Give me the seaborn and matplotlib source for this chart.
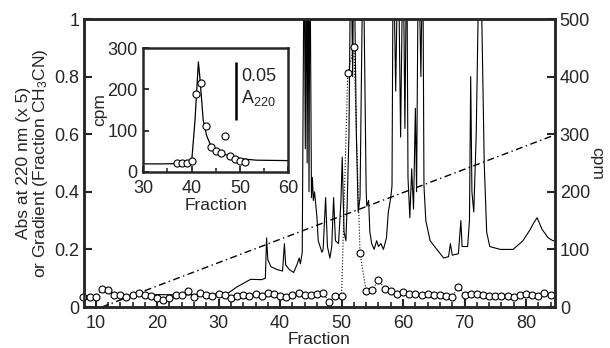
# %%
import matplotlib
matplotlib.use("Agg")
import matplotlib.pyplot as plt
import seaborn as sns
from matplotlib.ticker import MultipleLocator

sns.set_style("ticks")
plt.rcParams['font.family'] = ['Liberation Sans', 'DejaVu Sans']
plt.rcParams['mathtext.default'] = 'regular'

# %%
# A220 (x5) trace (values > 1 run off the top)
abs_frac = [17.3, 20.0, 24.4, 28.0, 31.4, 33.0, 35.2, 37.0, 37.6, 37.8, 38.0, 38.5,
            39.5, 40.4, 40.7, 40.9, 41.5, 42.2, 42.8, 43.1, 43.3, 43.6, 43.9, 44.1,
            44.25, 44.4, 44.55, 44.7, 44.85, 45.1, 45.25, 45.4, 45.6, 46.0, 46.2, 46.8,
            47.0, 47.4, 47.7, 48.1, 48.4, 48.7, 49.0, 49.5, 49.9, 50.1, 50.4, 50.7,
            50.9, 51.2, 51.5, 51.8, 52.0, 52.4, 52.7, 53.0, 53.5, 54.0, 54.1, 54.4,
            54.6, 54.9, 55.3, 55.7, 56.0, 56.4, 56.8, 57.3, 57.6, 58.0, 58.2, 58.4,
            58.8, 59.2, 59.6, 60.0, 60.3, 60.6, 60.8, 61.1, 61.4, 61.7, 62.0, 62.2,
            62.5, 62.9, 63.2, 63.4, 63.7, 64.4, 65.5, 66.6, 67.4, 67.7, 68.0, 69.0,
            69.4, 69.6, 70.5, 70.8, 71.0, 71.2, 71.5, 71.9, 72.5, 73.2, 73.6, 74.1,
            75.8, 77.9, 79.5, 80.7, 81.2, 81.8, 82.6, 83.6, 84.4, 84.7]
abs_val = [0.042, 0.043, 0.042, 0.044, 0.046, 0.07, 0.096, 0.095, 0.10, 0.24, 0.165, 0.14,
           0.13, 0.125, 0.22, 0.146, 0.13, 0.12, 0.15, 0.17, 0.15, 0.19, 1.3, 0.55,
           1.3, 0.5, 1.3, 0.4, 1.3, 0.38, 0.45, 0.37, 0.40, 0.31, 0.23, 0.19,
           0.20, 0.38, 0.21, 0.17, 0.21, 0.38, 0.23, 0.22, 0.37, 0.52, 0.26, 0.23,
           0.35, 0.60, 1.3, 0.8, 1.3, 0.6, 0.33, 0.38, 1.3, 0.40, 0.35, 0.37,
           0.26, 0.22, 0.20, 0.23, 0.21, 0.22, 0.20, 0.24, 0.33, 0.38, 0.42, 1.3,
           0.75, 1.3, 0.59, 1.3, 0.62, 1.3, 0.45, 0.31, 0.48, 0.34, 0.69, 0.40,
           1.3, 0.8, 1.3, 0.42, 0.30, 0.23, 0.20, 0.17, 0.175, 0.22, 0.18, 0.185,
           0.30, 0.21, 0.21, 0.30, 0.80, 0.40, 0.33, 0.60, 1.4, 0.50, 0.26, 0.21,
           0.20, 0.20, 0.23, 0.27, 0.29, 0.31, 0.27, 0.24, 0.23, 0.23]

# acetonitrile gradient
grad_frac = [11, 85]
grad_val = [0.0, 0.6]

# cpm per fraction (right axis)
cpm_frac = list(range(8, 85))
cpm_val = [18, 18, 18, 31, 29, 21, 21, 18, 21, 24, 21, 19, 15, 12, 15, 21, 21, 27,
           17, 24, 21, 19, 22, 20, 15, 19, 21, 19, 22, 19, 25, 23, 19, 18, 21, 25,
           21, 21, 23, 24, 8, 19, 19, 406, 451, 93, 27, 30, 47, 32, 27, 22, 26, 22,
           22, 20, 22, 21, 21, 19, 18, 35, 21, 23, 23, 21, 19, 19, 19, 19, 17, 21,
           23, 21, 19, 25, 21]

# inset: rechromatography of the active peak
ins_line_frac = [30, 34, 38, 40, 40.7, 41.4, 41.7, 42.4, 43.1, 43.8, 44.8, 46.6,
                 48.6, 50.7, 53.4, 60]
ins_line_cpm = [19, 19, 20, 23, 125, 267, 230, 125, 88, 68, 55, 43, 35, 31, 28, 27]
ins_pt_frac = list(range(37, 52))
ins_pt_cpm = [21, 21, 21, 27, 190, 216, 110, 59, 51, 45, 88, 39, 31, 27, 24]

# %%
fs = 13
lfs = 12.5
fig = plt.figure(figsize=(6.1, 3.48), dpi=100)
ax = fig.add_axes([0.1377, 0.1178, 0.772, 0.8276])

sns.lineplot(x=abs_frac, y=abs_val, ax=ax, color='black', lw=0.8,
             estimator=None, sort=False)
sns.lineplot(x=grad_frac, y=grad_val, ax=ax, color='black', lw=1.0,
             linestyle=(0, (5, 2.5, 1, 2.5)), estimator=None)

ax.set_xlim(8.1, 84.7)
ax.set_ylim(0, 1)
ax.xaxis.set_major_locator(MultipleLocator(10))
ax.xaxis.set_minor_locator(MultipleLocator(2))
ax.set_yticks([0, 0.2, 0.4, 0.6, 0.8, 1])
ax.set_yticklabels(['0', '0.2', '0.4', '0.6', '0.8', '1'])
ax.tick_params(which='major', direction='in', length=6, width=1.5, labelsize=fs)
ax.tick_params(axis='x', which='major', pad=6)
ax.tick_params(which='minor', direction='in', length=3.5, width=1.2)
ax.set_xlabel('Fraction', fontsize=lfs, labelpad=0)
ax.set_ylabel('Abs at 220 nm (x 5)\nor Gradient (Fraction CH$_3$CN)', fontsize=lfs,
              labelpad=3, linespacing=1.0)

ax2 = ax.twinx()
sns.lineplot(x=cpm_frac, y=cpm_val, ax=ax2, color='black', lw=0.8, linestyle=':',
             marker='o', markersize=5, markerfacecolor='white',
             markeredgecolor='black', markeredgewidth=0.8, estimator=None,
             clip_on=False)
ax2.set_ylim(0, 500)
ax2.yaxis.set_major_locator(MultipleLocator(100))
ax2.tick_params(axis='y', direction='in', length=6, width=1.5, labelsize=fs)
ax2.set_ylabel('cpm', fontsize=lfs, rotation=270, labelpad=10)

for a in (ax, ax2):
    for s in a.spines.values():
        s.set_linewidth(1.8)

# %%
axin = fig.add_axes([0.2349, 0.5066, 0.2377, 0.3546])
axin.set_zorder(5)
axin.set_facecolor('white')
sns.lineplot(x=ins_line_frac, y=ins_line_cpm, ax=axin, color='black', lw=0.9,
             estimator=None, sort=False)
sns.scatterplot(x=ins_pt_frac, y=ins_pt_cpm, ax=axin, s=26, facecolor='white',
                edgecolor='black', linewidth=0.8, zorder=3)
axin.vlines(49.2, 125, 267, color='black', lw=1.8)
axin.text(50.2, 232, '0.05', fontsize=fs, va='center', ha='left')
axin.text(50.2, 178, 'A$_{220}$', fontsize=fs, va='center', ha='left')
axin.set_xlim(30, 60)
axin.set_ylim(0, 300)
axin.xaxis.set_major_locator(MultipleLocator(10))
axin.xaxis.set_minor_locator(MultipleLocator(5))
axin.yaxis.set_major_locator(MultipleLocator(100))
axin.tick_params(which='major', direction='in', length=4, width=1.3, labelsize=fs)
axin.tick_params(axis='x', which='major', pad=6)
axin.tick_params(axis='y', which='major', pad=4)
axin.tick_params(which='minor', direction='in', length=3, width=1.1)
axin.set_xlabel('Fraction', fontsize=lfs, labelpad=1)
axin.set_ylabel('cpm', fontsize=lfs, labelpad=0)
for s in axin.spines.values():
    s.set_linewidth(1.8)

fig.savefig('out.png', dpi=100)
